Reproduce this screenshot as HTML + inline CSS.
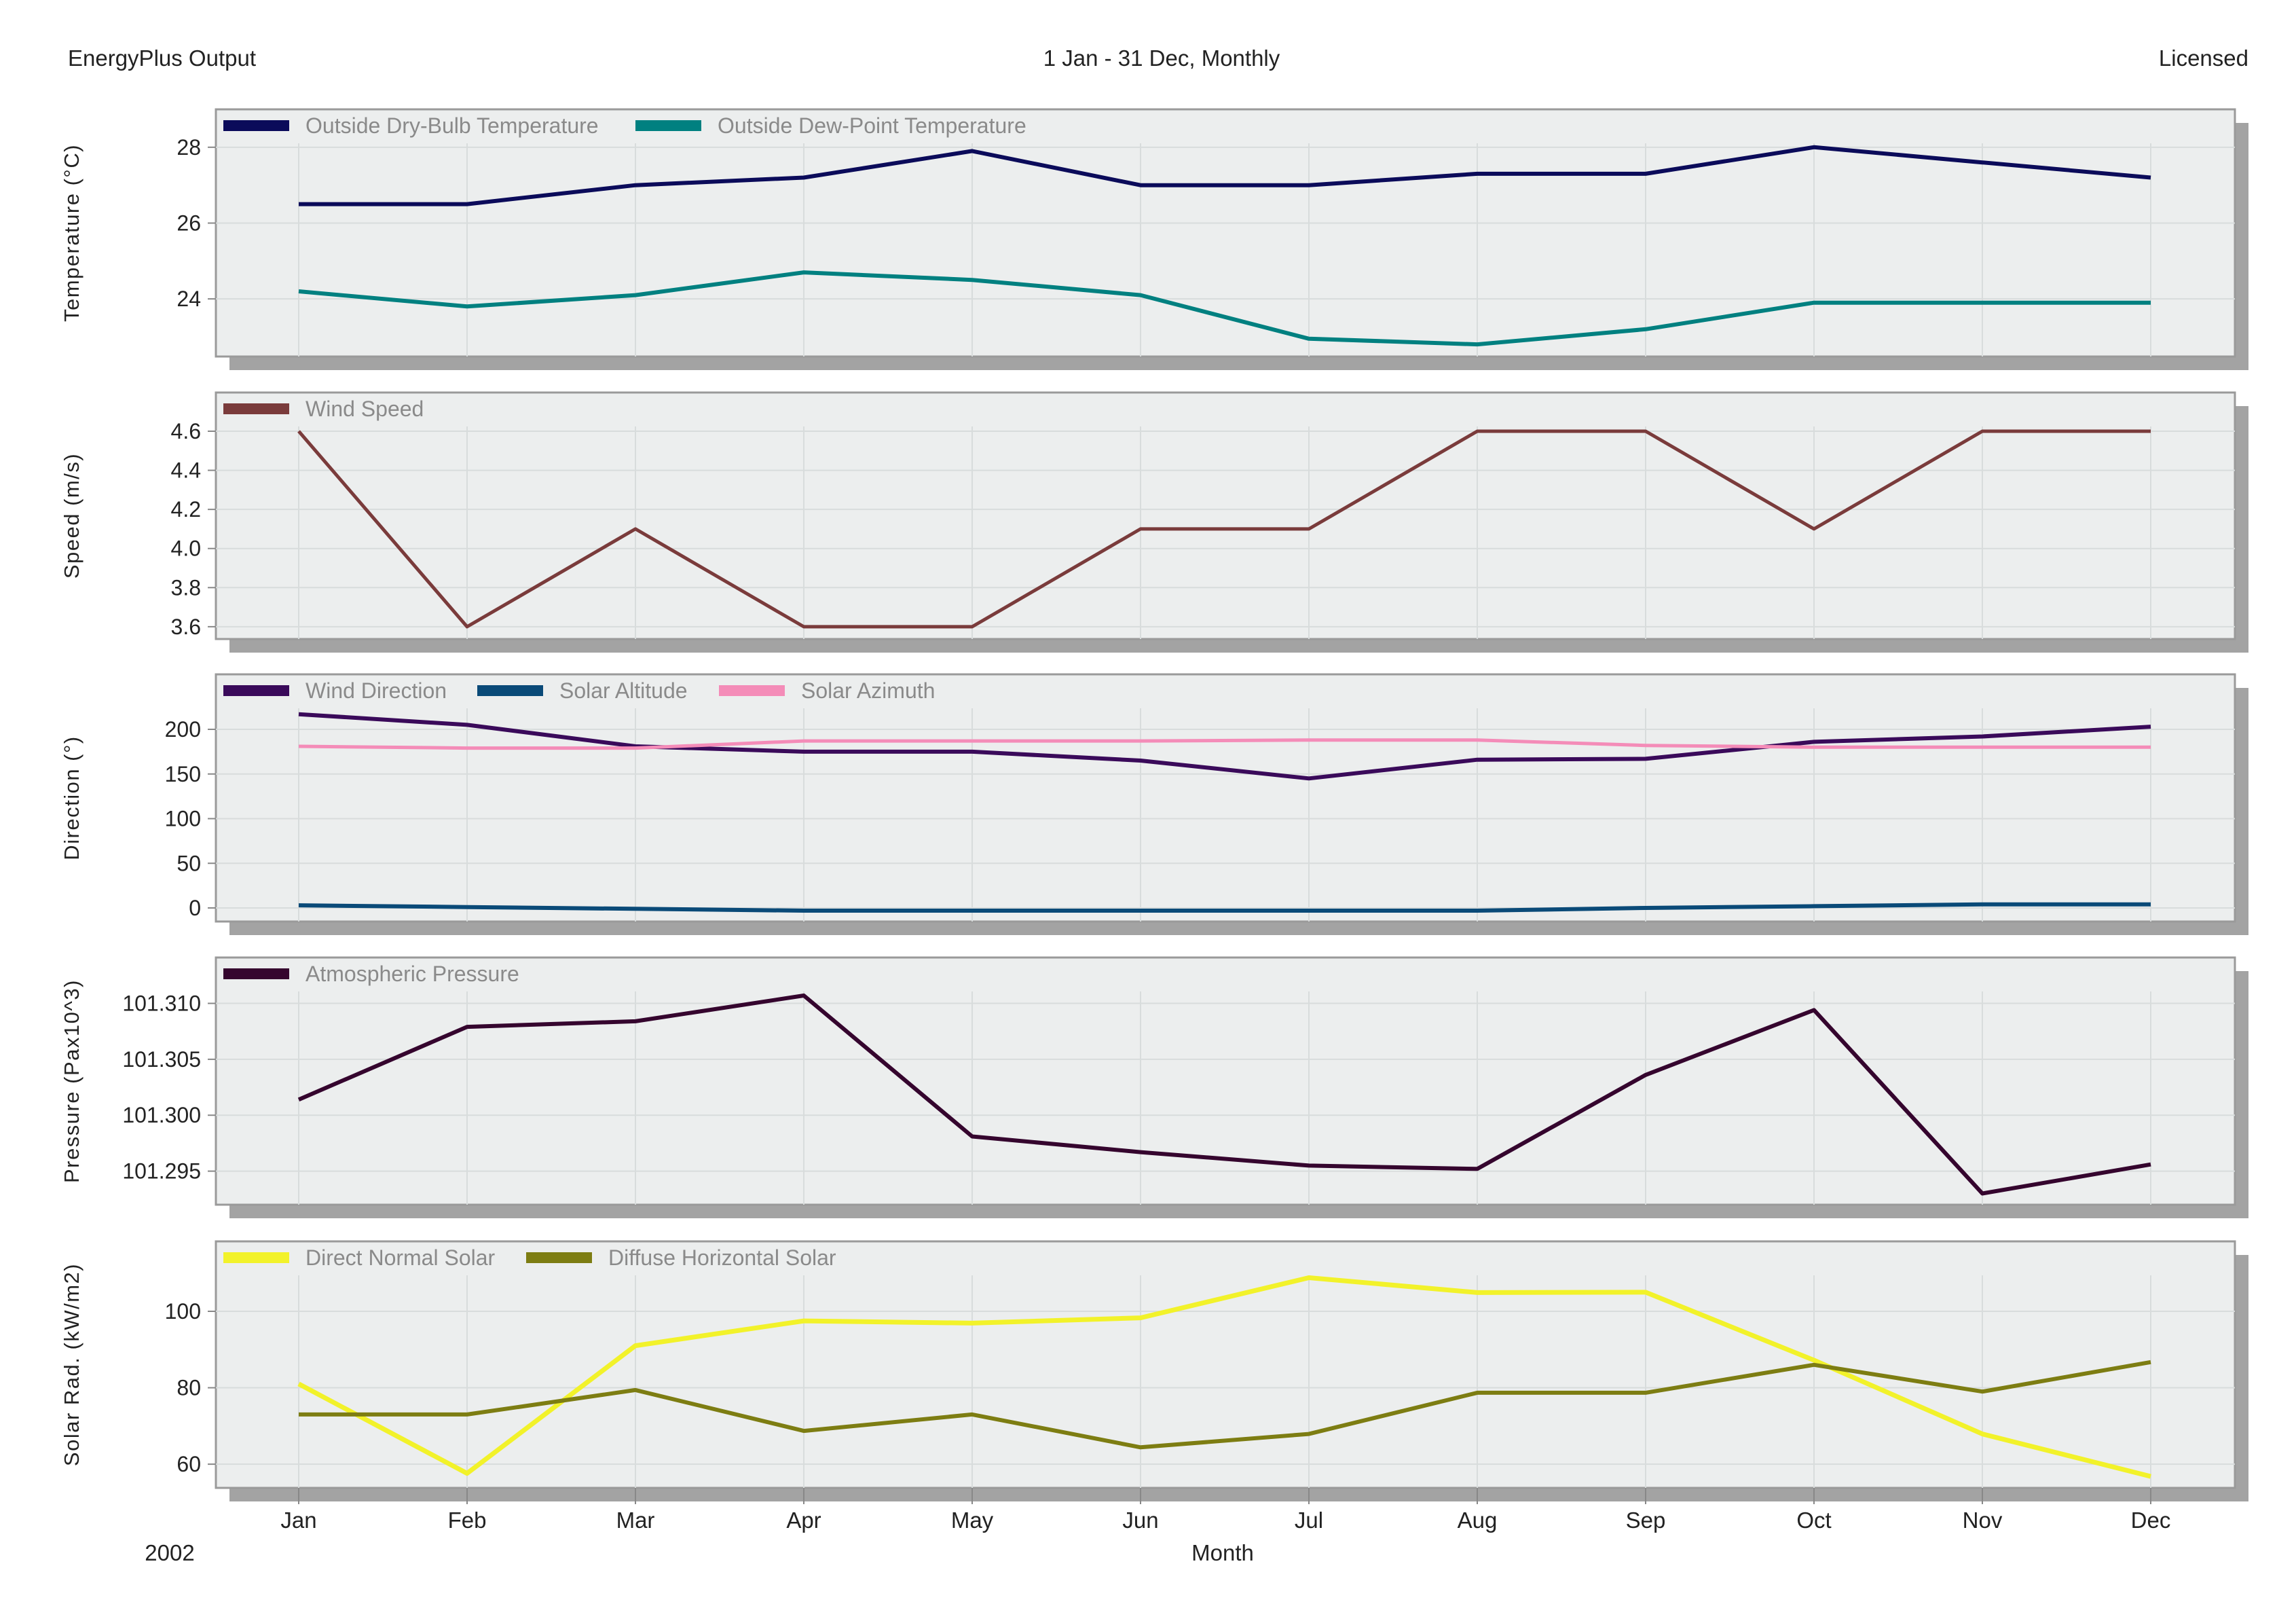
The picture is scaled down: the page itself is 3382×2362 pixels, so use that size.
<!DOCTYPE html>
<html><head><meta charset="utf-8">
<style>
html,body{margin:0;padding:0;background:#fff;}
svg{display:block;font-family:"Liberation Sans",sans-serif;}
</style></head>
<body>
<svg id="chart" width="3382" height="2362" viewBox="0 0 3382 2362" xmlns="http://www.w3.org/2000/svg">
<rect width="3382" height="2362" fill="#fff"/>
<text x="100" y="97" font-size="33" fill="#222">EnergyPlus Output</text>
<text x="1711" y="97" font-size="33" fill="#222" text-anchor="middle">1 Jan - 31 Dec, Monthly</text>
<text x="3312" y="97" font-size="33" fill="#222" text-anchor="end">Licensed</text>
<text x="1801" y="2298" font-size="33" fill="#222" text-anchor="middle">Month</text>
<text x="250" y="2298" font-size="33" fill="#222" text-anchor="middle">2002</text>
<g id="panels"></g>
</svg>
<script>
const months = ["Jan","Feb","Mar","Apr","May","Jun","Jul","Aug","Sep","Oct","Nov","Dec"];
const dryBulb = [26.5,26.5,27.0,27.2,27.9,27.0,27.0,27.3,27.3,28.0,27.6,27.2];
const dewPoint = [24.2,23.8,24.1,24.7,24.5,24.1,22.95,22.8,23.2,23.9,23.9,23.9];
const tempTicks = [24,26,28];
const windSpeed = [4.6,3.6,4.1,3.6,3.6,4.1,4.1,4.6,4.6,4.1,4.6,4.6];
const speedTicks = [3.6,3.8,4.0,4.2,4.4,4.6];
const windDir = [217,205,181,175,175,165,145,166,167,186,192,203];
const solarAlt = [3,1,-1,-3,-3,-3,-3,-3,0,2,4,4];
const solarAz = [181,179,179,187,187,187,188,188,182,180,180,180];
const dirTicks = [0,50,100,150,200];
const pressure = [101.3014,101.3079,101.3084,101.3107,101.2981,101.2967,101.2955,101.2952,101.3036,101.3094,101.2930,101.2956];
const pressTicks = [101.295,101.300,101.305,101.310];
const directSolar = [81,57.6,91,97.5,96.9,98.3,108.8,104.9,105,87.2,67.9,56.8];
const diffuseSolar = [73,73,79.4,68.7,73,64.4,67.9,78.7,78.7,86,79,86.7];
const solarTicks = [60,80,100];

const NS="http://www.w3.org/2000/svg";
const g=document.getElementById('panels');
const PL=318, PR=3292;
function xPos(i){return 440+i*248.0;}
function mk(tag,attrs,parent){const e=document.createElementNS(NS,tag);for(const k in attrs)e.setAttribute(k,attrs[k]);(parent||g).appendChild(e);return e;}

const panels=[
 {name:'temperature',top:161,bot:525,min:22.48,max:29.0,ticks:tempTicks,fmt:v=>v.toFixed(0),title:'Temperature (°C)',
  series:[{name:'Outside Dry-Bulb Temperature',data:dryBulb,color:'#0b0b5a',w:6},{name:'Outside Dew-Point Temperature',data:dewPoint,color:'#008080',w:6}],
  legX:[329,936]},
 {name:'wind-speed',top:578,bot:941,min:3.537,max:4.798,ticks:speedTicks,fmt:v=>v.toFixed(1),title:'Speed (m/s)',
  series:[{name:'Wind Speed',data:windSpeed,color:'#7a3b3b',w:5}],legX:[329]},
 {name:'direction',top:993,bot:1357,min:-15.2,max:261.6,ticks:dirTicks,fmt:v=>v.toFixed(0),title:'Direction (°)',
  series:[{name:'Wind Direction',data:windDir,color:'#3a0a5a',w:6},{name:'Solar Altitude',data:solarAlt,color:'#0a4a78',w:6},{name:'Solar Azimuth',data:solarAz,color:'#f48cb8',w:5}],
  legX:[329,703,1059]},
 {name:'pressure',top:1410,bot:1774,min:101.2920,max:101.3141,ticks:pressTicks,fmt:v=>v.toFixed(3),title:'Pressure (Pax10^3)',
  series:[{name:'Atmospheric Pressure',data:pressure,color:'#35052e',w:6}],legX:[329]},
 {name:'solar',top:1828,bot:2191,min:53.8,max:118.3,ticks:solarTicks,fmt:v=>v.toFixed(0),title:'Solar Rad. (kW/m2)',
  series:[{name:'Direct Normal Solar',data:directSolar,color:'#f2f22a',w:7},{name:'Diffuse Horizontal Solar',data:diffuseSolar,color:'#7d7d12',w:6}],
  legX:[329,775]}
];

panels.forEach((p,pi)=>{
  const pg=mk('g',{});
  
  
  const y=v=>p.bot-(v-p.min)/(p.max-p.min)*(p.bot-p.top);
  const sh=mk('rect',{x:PL+20,y:p.top+20,width:PR-PL,height:p.bot-p.top,fill:'#a3a3a3'},pg);
  
  
  const bg=mk('rect',{x:PL,y:p.top,width:PR-PL,height:p.bot-p.top,fill:'#eceeee',stroke:'#9a9a9a','stroke-width':3},pg);
  
  
  months.forEach((m,i)=>{
    const l=mk('line',{x1:xPos(i),x2:xPos(i),y1:p.top+50,y2:p.bot,stroke:'#d8dcdc','stroke-width':2},pg);
    
    
  });
  p.ticks.forEach(t=>{
    const yy=y(t);
    const l=mk('line',{x1:PL,x2:PR,y1:yy,y2:yy,stroke:'#d8dcdc','stroke-width':2},pg);
    
    
    const tk=mk('line',{x1:PL-12,x2:PL,y1:yy,y2:yy,stroke:'#888','stroke-width':2},pg);
    
    
    const tl=mk('text',{x:PL-22,y:yy+11,'font-size':32,fill:'#222','text-anchor':'end'},pg);
    tl.textContent=p.fmt(t);
    
    
  });
  const cy=(p.top+p.bot)/2;
  const at=mk('text',{x:108,y:cy,'font-size':31,'letter-spacing':1.5,fill:'#222','text-anchor':'middle',transform:`rotate(-90 108 ${cy})`,'dominant-baseline':'middle'},pg);
  at.textContent=p.title;
  
  
  p.series.forEach((s,si)=>{
    const pts=s.data.map((v,i)=>xPos(i).toFixed(1)+','+y(v).toFixed(1)).join(' ');
    const pl=mk('polyline',{points:pts,fill:'none',stroke:s.color,'stroke-width':s.w,'stroke-linejoin':'round'},pg);
    
    
    const lx=p.legX[si], ly=p.top+24;
    const lg=mk('g',{},pg);
    
    
    mk('rect',{x:lx,y:ly-8,width:97,height:16,fill:s.color},lg);
    const lt=mk('text',{x:lx+121,y:ly+11,'font-size':32,fill:'#8a8a8a'},lg);
    lt.textContent=s.name;
  });
  if(pi===panels.length-1){
    months.forEach((m,i)=>{
      const tk=mk('line',{x1:xPos(i),x2:xPos(i),y1:p.bot,y2:p.bot+24,stroke:'#888','stroke-width':2},pg);
      
      
      const t=mk('text',{x:xPos(i),y:2250,'font-size':33,fill:'#222','text-anchor':'middle'},pg);
      t.textContent=m;
      
      
    });
  }
});
</script>
</body></html>
